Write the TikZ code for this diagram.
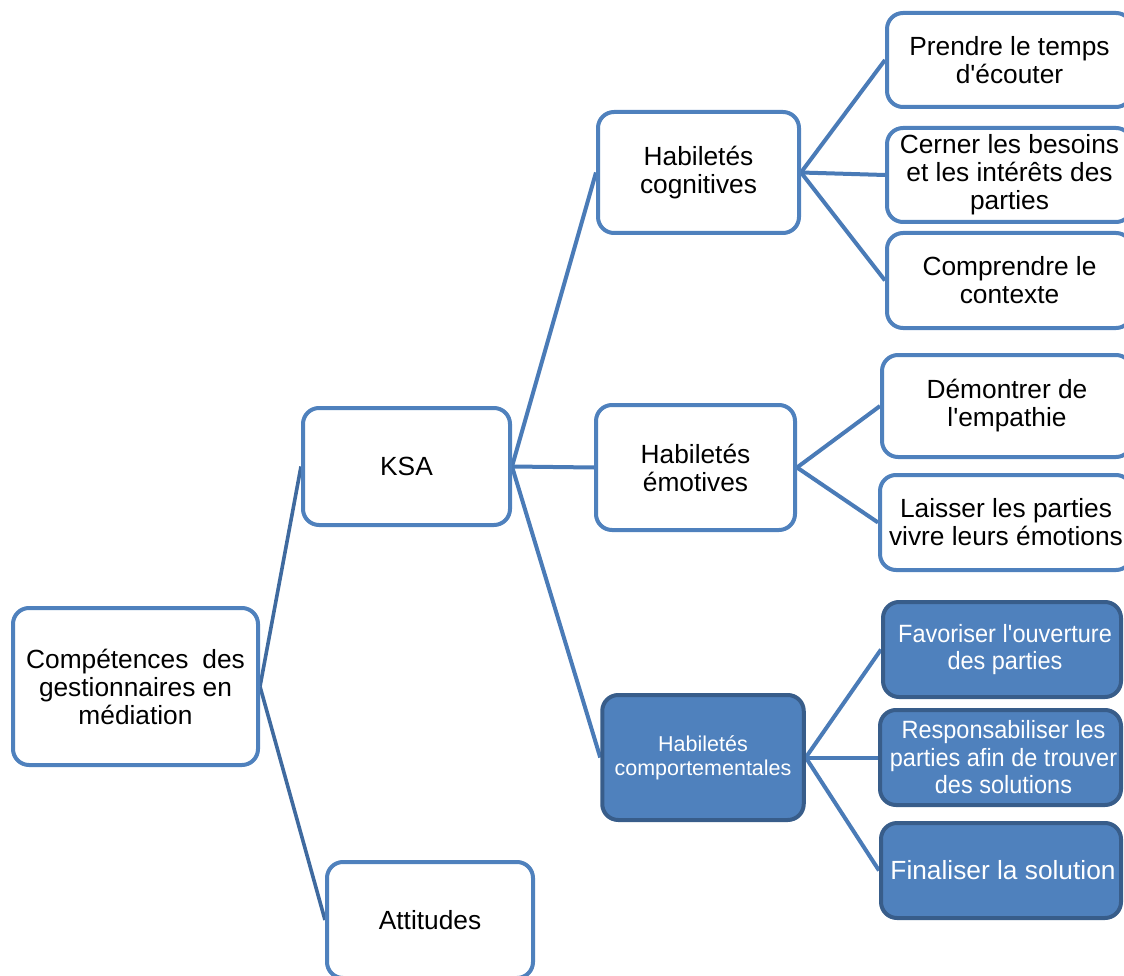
\documentclass[tikz,border=0pt]{standalone}
\usepackage{fontspec}
\setmainfont{Liberation Sans}[Ligatures=ResetAll]
\newfontfamily\condfont[FakeStretch=0.94]{Liberation Sans}
\usetikzlibrary{backgrounds}
\definecolor{boxblue}{HTML}{4F81BD}
\definecolor{boxedge}{HTML}{385D8A}
\definecolor{linkblue}{HTML}{4A7BB7}
\definecolor{rootlink}{HTML}{3F6A9F}
\begin{document}
\begin{tikzpicture}[x=1pt,y=-1pt,
  box/.style={draw=boxblue, line width=4pt, rounded corners=16pt, fill=white,
    inner sep=0pt, align=center, font=\fontsize{26.3}{28}\selectfont},
  solidbox/.style={box, draw=boxedge, fill=boxblue, text=white},
  condtext/.style={font=\condfont\fontsize{25}{27.5}\selectfont},
  link/.style={draw=linkblue, line width=4pt},
  rootlinkstyle/.style={draw=rootlink, line width=3.6pt},
]
\clip (0,0) rectangle (1124,976);

% root and first level
\node[box, minimum width=245pt, minimum height=157pt] (root) at (135.5,686.5)
  {Compétences\hspace{14pt}des\\gestionnaires en\\médiation};
\node[box, minimum width=207pt, minimum height=117pt] (ksa) at (406.5,466.5) {KSA};
\node[box, minimum width=206pt, minimum height=116pt] (att) at (430,920) {Attitudes};

% second level
\node[box, minimum width=201pt, minimum height=121pt] (cog) at (698.5,172.5) {Habiletés\\cognitives};
\node[box, minimum width=199pt, minimum height=125pt] (emo) at (695.5,467.5) {Habiletés\\émotives};
\node[solidbox, minimum width=201.5pt, minimum height=125pt,
  font=\fontsize{21.5}{24}\selectfont] (comp) at (703,757.5) {Habiletés\\comportementales};

% leaves of the cognitive branch
\node[box, minimum width=245pt, minimum height=94pt] (prendre) at (1009.5,60)
  {Prendre le temps\\d\textquotesingle écouter};
\node[box, minimum width=245pt, minimum height=94pt] (cerner) at (1009.5,175)
  {Cerner les besoins\\et les intérêts des\\parties};
\node[box, minimum width=245pt, minimum height=95pt] (comprendre) at (1009.5,280.5)
  {Comprendre le\\contexte};

% leaves of the emotional branch
\node[box, minimum width=250pt, minimum height=102pt] (demontrer) at (1007,406)
  {Démontrer de\\l\textquotesingle empathie};
\node[box, minimum width=252pt, minimum height=95pt] (laisser) at (1006,522.5)
  {Laisser les parties\\vivre leurs émotions};

% leaves of the behavioural branch
\node[solidbox, condtext, minimum width=238pt, minimum height=95pt] (favoriser) at (1002,649.5)
  {\hspace*{6pt}Favoriser l\textquotesingle ouverture\\\hspace*{6pt}des parties};
\node[solidbox, condtext, minimum width=241pt, minimum height=95pt] (respons) at (1000.5,757.5)
  {\hspace*{6pt}Responsabiliser les\\\hspace*{6pt}parties afin de trouver\\\hspace*{6pt}des solutions};
\node[solidbox, minimum width=240pt, minimum height=95pt] (finaliser) at (1001,870.5)
  {\hspace*{4pt}Finaliser la solution};

% connectors
\begin{scope}[on background layer]
  \draw[rootlinkstyle] (root.east) -- (ksa.west);
  \draw[rootlinkstyle] (root.east) -- (att.west);
  \draw[link] (ksa.east) -- (cog.west);
  \draw[link] (ksa.east) -- (emo.west);
  \draw[link] (ksa.east) -- (comp.west);
  \draw[link] (cog.east) -- (prendre.west);
  \draw[link] (cog.east) -- (cerner.west);
  \draw[link] (cog.east) -- (comprendre.west);
  \draw[link] (emo.east) -- (demontrer.west);
  \draw[link] (emo.east) -- (laisser.west);
  \draw[link] (comp.east) -- (favoriser.west);
  \draw[link] (comp.east) -- (respons.west);
  \draw[link] (comp.east) -- (finaliser.west);
\end{scope}
\end{tikzpicture}
\end{document}
